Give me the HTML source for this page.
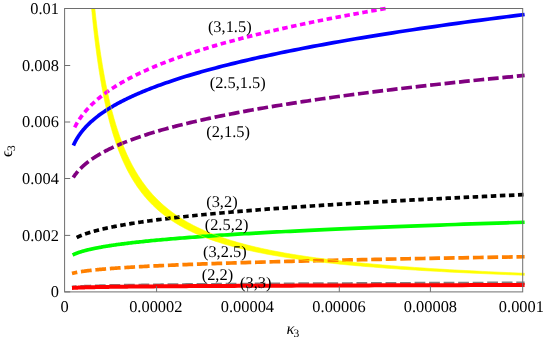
<!DOCTYPE html>
<html><head><meta charset="utf-8"><title>plot</title>
<style>html,body{margin:0;padding:0;background:#fff;}svg{display:block;will-change:transform;}</style></head>
<body>
<svg width="545" height="341" viewBox="0 0 545 341">
<rect width="545" height="341" fill="#fff"/>
<path d="M91.58,8.50 L91.97,12.51 L92.36,16.46 L92.76,20.36 L93.16,24.20 L93.57,27.99 L93.99,31.73 L94.41,35.41 L94.84,39.04 L95.27,42.62 L95.71,46.14 L96.16,49.62 L96.61,53.05 L97.07,56.43 L97.54,59.76 L98.01,63.05 L98.49,66.28 L98.98,69.48 L99.47,72.62 L99.97,75.73 L100.48,78.79 L101.00,81.80 L101.52,84.77 L102.05,87.71 L102.59,90.59 L103.13,93.44 L103.68,96.25 L104.24,99.02 L104.81,101.75 L105.39,104.44 L105.98,107.09 L106.57,109.71 L107.17,112.29 L107.78,114.83 L108.40,117.33 L109.03,119.80 L109.67,122.24 L110.32,124.64 L110.97,127.01 L111.64,129.34 L112.31,131.64 L113.00,133.91 L113.69,136.14 L114.40,138.35 L115.11,140.52 L115.84,142.66 L116.57,144.77 L117.32,146.86 L118.08,148.91 L118.84,150.93 L119.62,152.93 L120.41,154.89 L121.21,156.83 L122.03,158.74 L122.85,160.63 L123.69,162.48 L124.53,164.32 L125.40,166.12 L126.27,167.90 L127.15,169.66 L128.05,171.39 L128.96,173.09 L129.89,174.77 L130.82,176.43 L131.77,178.06 L132.74,179.67 L133.72,181.26 L134.71,182.83 L135.71,184.37 L136.73,185.89 L137.77,187.39 L138.82,188.87 L139.89,190.33 L140.97,191.77 L142.06,193.18 L143.17,194.58 L144.30,195.96 L145.45,197.32 L146.61,198.65 L147.78,199.97 L148.98,201.27 L150.19,202.56 L151.42,203.82 L152.66,205.07 L153.93,206.30 L155.21,207.51 L156.51,208.70 L157.83,209.88 L159.17,211.04 L160.52,212.18 L161.90,213.31 L163.30,214.42 L164.71,215.52 L166.15,216.60 L167.61,217.67 L169.09,218.72 L170.59,219.75 L172.11,220.77 L173.65,221.78 L175.22,222.77 L176.80,223.75 L178.42,224.71 L180.05,225.67 L181.71,226.60 L183.39,227.53 L185.09,228.44 L186.82,229.34 L188.58,230.22 L190.36,231.09 L192.16,231.95 L193.99,232.80 L195.85,233.64 L197.73,234.46 L199.64,235.28 L201.58,236.08 L203.55,236.87 L205.54,237.65 L207.57,238.41 L209.62,239.17 L211.70,239.92 L213.81,240.65 L215.95,241.38 L218.12,242.09 L220.33,242.80 L222.56,243.49 L224.83,244.18 L227.13,244.85 L229.46,245.52 L231.83,246.17 L234.23,246.82 L236.66,247.46 L239.13,248.09 L241.64,248.71 L244.18,249.32 L246.76,249.92 L249.37,250.52 L252.03,251.10 L254.72,251.68 L257.44,252.25 L260.21,252.81 L263.02,253.36 L265.87,253.91 L268.76,254.44 L271.69,254.97 L274.66,255.50 L277.68,256.01 L280.73,256.52 L283.84,257.02 L286.98,257.51 L290.17,258.00 L293.41,258.48 L296.70,258.95 L300.03,259.42 L303.41,259.88 L306.83,260.33 L310.31,260.78 L313.84,261.22 L317.42,261.65 L321.04,262.08 L324.73,262.50 L328.46,262.92 L332.25,263.33 L336.09,263.73 L339.99,264.13 L343.94,264.53 L347.95,264.91 L352.01,265.29 L356.14,265.67 L360.32,266.04 L364.57,266.41 L368.88,266.77 L373.24,267.12 L377.67,267.48 L382.17,267.82 L386.72,268.16 L391.35,268.50 L396.04,268.83 L400.80,269.16 L405.62,269.48 L410.52,269.79 L415.48,270.11 L420.52,270.42 L425.63,270.72 L430.81,271.02 L436.06,271.31 L441.40,271.61 L446.80,271.89 L452.29,272.18 L457.86,272.46 L463.50,272.73 L469.23,273.00 L475.03,273.27 L480.92,273.53 L486.90,273.79 L492.96,274.05 L499.11,274.30 L505.35,274.55 L511.67,274.80 L518.09,275.04 L524.60,275.28 L524.60,273.27 L518.35,273.02 L512.19,272.76 L506.10,272.49 L500.11,272.23 L494.19,271.95 L488.35,271.68 L482.59,271.40 L476.92,271.12 L471.31,270.83 L465.79,270.54 L460.34,270.25 L454.96,269.95 L449.66,269.65 L444.43,269.34 L439.27,269.03 L434.17,268.72 L429.15,268.40 L424.20,268.07 L419.31,267.74 L414.50,267.41 L409.74,267.07 L405.05,266.73 L400.43,266.39 L395.86,266.03 L391.36,265.68 L386.92,265.32 L382.54,264.95 L378.22,264.58 L373.96,264.20 L369.76,263.82 L365.61,263.43 L361.52,263.04 L357.49,262.65 L353.51,262.24 L349.59,261.83 L345.71,261.42 L341.89,261.00 L338.13,260.57 L334.41,260.14 L330.75,259.71 L327.13,259.26 L323.56,258.81 L320.04,258.36 L316.57,257.89 L313.15,257.43 L309.77,256.95 L306.44,256.47 L303.16,255.98 L299.92,255.49 L296.72,254.99 L293.56,254.48 L290.45,253.96 L287.39,253.44 L284.36,252.91 L281.37,252.37 L278.43,251.83 L275.52,251.28 L272.66,250.72 L269.83,250.15 L267.04,249.57 L264.29,248.99 L261.58,248.40 L258.90,247.80 L256.26,247.19 L253.66,246.58 L251.09,245.95 L248.56,245.32 L246.06,244.68 L243.59,244.03 L241.16,243.37 L238.76,242.70 L236.39,242.02 L234.06,241.34 L231.76,240.64 L229.49,239.93 L227.25,239.22 L225.04,238.49 L222.86,237.76 L220.71,237.01 L218.59,236.26 L216.49,235.49 L214.43,234.71 L212.39,233.92 L210.39,233.13 L208.41,232.32 L206.45,231.50 L204.52,230.66 L202.62,229.82 L200.75,228.96 L198.90,228.10 L197.07,227.22 L195.27,226.33 L193.50,225.43 L191.75,224.51 L190.02,223.58 L188.32,222.64 L186.63,221.69 L184.98,220.72 L183.34,219.74 L181.73,218.75 L180.14,217.74 L178.57,216.72 L177.02,215.68 L175.49,214.63 L173.98,213.57 L172.50,212.49 L171.03,211.39 L169.59,210.28 L168.16,209.16 L166.75,208.02 L165.37,206.87 L164.00,205.69 L162.65,204.51 L161.31,203.30 L160.00,202.08 L158.70,200.85 L157.42,199.59 L156.16,198.32 L154.92,197.03 L153.69,195.72 L152.48,194.40 L151.29,193.06 L150.11,191.70 L148.95,190.32 L147.80,188.92 L146.67,187.50 L145.56,186.06 L144.46,184.60 L143.37,183.12 L142.30,181.63 L141.25,180.11 L140.20,178.57 L139.18,177.01 L138.16,175.42 L137.16,173.82 L136.18,172.19 L135.21,170.54 L134.25,168.87 L133.30,167.18 L132.37,165.46 L131.45,163.72 L130.54,161.95 L129.64,160.16 L128.76,158.35 L127.89,156.51 L127.03,154.64 L126.18,152.75 L125.34,150.84 L124.52,148.90 L123.70,146.93 L122.90,144.93 L122.11,142.90 L121.33,140.85 L120.56,138.77 L119.80,136.66 L119.05,134.52 L118.31,132.36 L117.58,130.16 L116.86,127.93 L116.15,125.67 L115.45,123.38 L114.76,121.06 L114.07,118.71 L113.40,116.32 L112.74,113.91 L112.08,111.45 L111.44,108.97 L110.80,106.45 L110.18,103.89 L109.56,101.30 L108.95,98.68 L108.34,96.02 L107.75,93.32 L107.16,90.59 L106.58,87.81 L106.01,85.00 L105.45,82.15 L104.90,79.26 L104.35,76.33 L103.81,73.36 L103.28,70.35 L102.75,67.30 L102.23,64.21 L101.72,61.07 L101.22,57.89 L100.72,54.67 L100.23,51.40 L99.74,48.09 L99.27,44.73 L98.80,41.33 L98.33,37.88 L97.87,34.38 L97.42,30.83 L96.97,27.24 L96.54,23.59 L96.10,19.89 L95.67,16.15 L95.25,12.35 L94.83,8.50Z" fill="#ffff00"/>
<path d="M74.50,127.67 L74.67,127.33 L74.85,126.98 L75.03,126.63 L75.22,126.28 L75.40,125.93 L75.60,125.58 L75.79,125.22 L75.99,124.87 L76.19,124.51 L76.39,124.15 L76.60,123.78 L76.81,123.42 L77.03,123.05 L77.25,122.68 L77.47,122.31 L77.70,121.94 L77.93,121.57 L78.16,121.19 L78.40,120.81 L78.65,120.43 L78.89,120.05 L79.14,119.67 L79.40,119.28 L79.66,118.89 L79.93,118.50 L80.20,118.11 L80.47,117.72 L80.75,117.32 L81.04,116.92 L81.33,116.52 L81.62,116.12 L81.92,115.72 L82.23,115.31 L82.54,114.90 L82.86,114.49 L83.18,114.08 L83.51,113.66 L83.84,113.25 L84.18,112.83 L84.53,112.40 L84.88,111.98 L85.23,111.56 L85.60,111.13 L85.97,110.70 L86.35,110.27 L86.73,109.83 L87.12,109.39 L87.52,108.96 L87.92,108.51 L88.33,108.07 L88.75,107.62 L89.18,107.18 L89.61,106.73 L90.05,106.27 L90.50,105.82 L90.96,105.36 L91.42,104.90 L91.90,104.44 L92.38,103.97 L92.87,103.51 L93.37,103.04 L93.87,102.57 L94.39,102.09 L94.92,101.61 L95.45,101.14 L96.00,100.65 L96.55,100.17 L97.11,99.68 L97.69,99.19 L98.27,98.70 L98.86,98.21 L99.47,97.71 L100.08,97.21 L100.71,96.71 L101.35,96.21 L101.99,95.70 L102.65,95.19 L103.33,94.68 L104.01,94.16 L104.70,93.64 L105.41,93.12 L106.13,92.60 L106.86,92.07 L107.61,91.55 L108.37,91.02 L109.14,90.48 L109.93,89.94 L110.73,89.41 L111.54,88.86 L112.37,88.32 L113.21,87.77 L114.07,87.22 L114.94,86.67 L115.83,86.11 L116.73,85.55 L117.65,84.99 L118.59,84.42 L119.54,83.86 L120.51,83.29 L121.49,82.71 L122.50,82.13 L123.52,81.55 L124.56,80.97 L125.62,80.39 L126.69,79.80 L127.79,79.21 L128.90,78.61 L130.04,78.01 L131.19,77.41 L132.37,76.81 L133.56,76.20 L134.78,75.59 L136.02,74.98 L137.28,74.36 L138.56,73.74 L139.86,73.12 L141.19,72.49 L142.54,71.86 L143.92,71.23 L145.32,70.59 L146.74,69.95 L148.19,69.31 L149.66,68.67 L151.16,68.02 L152.69,67.36 L154.24,66.71 L155.83,66.05 L157.44,65.39 L159.07,64.72 L160.74,64.05 L162.44,63.38 L164.16,62.70 L165.92,62.02 L167.70,61.34 L169.52,60.65 L171.37,59.96 L173.26,59.27 L175.17,58.57 L177.13,57.87 L179.11,57.16 L181.13,56.45 L183.19,55.74 L185.28,55.02 L187.41,54.30 L189.57,53.58 L191.78,52.85 L194.02,52.12 L196.30,51.39 L198.63,50.65 L200.99,49.91 L203.40,49.16 L205.85,48.41 L208.34,47.66 L210.87,46.90 L213.45,46.14 L216.08,45.37 L218.75,44.60 L221.47,43.83 L224.24,43.05 L227.05,42.27 L229.92,41.49 L232.84,40.70 L235.80,39.90 L238.82,39.11 L241.90,38.30 L245.03,37.50 L248.21,36.69 L251.45,35.87 L254.74,35.06 L258.10,34.23 L261.51,33.41 L264.98,32.57 L268.52,31.74 L272.12,30.90 L275.78,30.05 L279.50,29.21 L283.29,28.35 L287.15,27.50 L291.08,26.63 L295.07,25.77 L299.14,24.90 L303.27,24.02 L307.49,23.14 L311.77,22.26 L316.13,21.37 L320.57,20.48 L325.08,19.58 L329.68,18.68 L334.35,17.77 L339.11,16.86 L343.95,15.94 L348.88,15.02 L353.90,14.09 L359.00,13.16 L364.19,12.23 L369.48,11.29 L374.86,10.34 L380.33,9.39 L385.90,8.43" fill="none" stroke="#ff00ff" stroke-width="3.70" stroke-linejoin="round" stroke-dasharray="5.5 3.57" stroke-dashoffset="-0.35"/>
<path d="M73.40,145.52 L73.58,145.12 L73.76,144.72 L73.94,144.31 L74.13,143.91 L74.32,143.50 L74.51,143.10 L74.71,142.70 L74.92,142.29 L75.12,141.89 L75.34,141.48 L75.55,141.07 L75.77,140.67 L76.00,140.26 L76.22,139.85 L76.46,139.44 L76.70,139.03 L76.94,138.62 L77.19,138.21 L77.44,137.80 L77.70,137.39 L77.96,136.97 L78.23,136.56 L78.50,136.14 L78.78,135.72 L79.07,135.30 L79.36,134.88 L79.65,134.46 L79.96,134.04 L80.26,133.61 L80.58,133.19 L80.90,132.76 L81.23,132.33 L81.56,131.90 L81.90,131.47 L82.25,131.03 L82.60,130.60 L82.96,130.16 L83.33,129.72 L83.71,129.28 L84.09,128.84 L84.48,128.40 L84.88,127.95 L85.29,127.50 L85.71,127.05 L86.13,126.60 L86.56,126.15 L87.00,125.69 L87.45,125.23 L87.91,124.77 L88.38,124.31 L88.86,123.84 L89.34,123.38 L89.84,122.91 L90.35,122.44 L90.87,121.96 L91.39,121.49 L91.93,121.01 L92.48,120.53 L93.04,120.05 L93.61,119.56 L94.19,119.07 L94.79,118.58 L95.39,118.09 L96.01,117.60 L96.64,117.10 L97.29,116.60 L97.94,116.10 L98.61,115.59 L99.29,115.08 L99.99,114.57 L100.70,114.06 L101.43,113.54 L102.17,113.02 L102.92,112.50 L103.69,111.97 L104.48,111.44 L105.28,110.91 L106.09,110.38 L106.93,109.84 L107.78,109.30 L108.64,108.76 L109.53,108.21 L110.43,107.66 L111.35,107.11 L112.29,106.56 L113.25,106.00 L114.22,105.44 L115.22,104.87 L116.24,104.30 L117.27,103.73 L118.33,103.16 L119.41,102.58 L120.51,102.00 L121.63,101.41 L122.78,100.82 L123.95,100.23 L125.14,99.64 L126.35,99.04 L127.59,98.43 L128.86,97.83 L130.15,97.22 L131.47,96.61 L132.81,95.99 L134.18,95.37 L135.58,94.74 L137.00,94.12 L138.45,93.48 L139.94,92.85 L141.45,92.21 L142.99,91.56 L144.57,90.92 L146.17,90.26 L147.81,89.61 L149.48,88.95 L151.19,88.29 L152.93,87.62 L154.70,86.95 L156.51,86.27 L158.35,85.59 L160.24,84.91 L162.16,84.22 L164.12,83.52 L166.12,82.83 L168.15,82.13 L170.23,81.42 L172.35,80.71 L174.52,80.00 L176.73,79.28 L178.98,78.55 L181.27,77.82 L183.62,77.09 L186.01,76.35 L188.44,75.61 L190.93,74.87 L193.47,74.11 L196.06,73.36 L198.70,72.60 L201.39,71.83 L204.14,71.06 L206.94,70.28 L209.80,69.50 L212.71,68.72 L215.69,67.93 L218.72,67.13 L221.81,66.33 L224.97,65.53 L228.19,64.72 L231.48,63.90 L234.83,63.08 L238.25,62.25 L241.73,61.42 L245.29,60.58 L248.92,59.74 L252.62,58.89 L256.40,58.04 L260.25,57.18 L264.18,56.32 L268.18,55.45 L272.27,54.57 L276.44,53.69 L280.70,52.81 L285.03,51.91 L289.46,51.02 L293.98,50.11 L298.58,49.20 L303.28,48.29 L308.07,47.36 L312.96,46.44 L317.95,45.50 L323.04,44.56 L328.23,43.62 L333.52,42.67 L338.92,41.71 L344.43,40.74 L350.05,39.77 L355.78,38.80 L361.63,37.81 L367.59,36.82 L373.68,35.83 L379.88,34.83 L386.21,33.82 L392.67,32.80 L399.26,31.78 L405.98,30.75 L412.84,29.72 L419.83,28.67 L426.96,27.62 L434.24,26.57 L441.66,25.51 L449.23,24.44 L456.96,23.36 L464.84,22.28 L472.87,21.18 L481.07,20.09 L489.43,18.98 L497.97,17.87 L506.67,16.75 L515.54,15.62 L524.60,14.49" fill="none" stroke="#0000ff" stroke-width="3.70" stroke-linejoin="round"/>
<path d="M73.25,177.47 L73.42,177.20 L73.60,176.93 L73.78,176.66 L73.97,176.38 L74.16,176.11 L74.35,175.83 L74.55,175.56 L74.75,175.28 L74.95,175.00 L75.16,174.71 L75.37,174.43 L75.59,174.14 L75.81,173.85 L76.04,173.57 L76.27,173.27 L76.51,172.98 L76.75,172.69 L76.99,172.39 L77.24,172.09 L77.50,171.79 L77.76,171.49 L78.02,171.19 L78.29,170.88 L78.57,170.57 L78.85,170.26 L79.14,169.95 L79.43,169.64 L79.73,169.32 L80.03,169.01 L80.35,168.69 L80.66,168.37 L80.99,168.05 L81.32,167.72 L81.66,167.39 L82.00,167.07 L82.35,166.74 L82.71,166.40 L83.07,166.07 L83.45,165.73 L83.83,165.40 L84.21,165.06 L84.61,164.71 L85.01,164.37 L85.43,164.02 L85.85,163.67 L86.27,163.32 L86.71,162.97 L87.16,162.62 L87.61,162.26 L88.08,161.90 L88.55,161.54 L89.03,161.18 L89.53,160.81 L90.03,160.44 L90.54,160.07 L91.06,159.70 L91.60,159.33 L92.14,158.95 L92.70,158.57 L93.26,158.19 L93.84,157.81 L94.43,157.42 L95.03,157.03 L95.65,156.64 L96.27,156.25 L96.91,155.86 L97.56,155.46 L98.23,155.06 L98.91,154.66 L99.60,154.25 L100.31,153.85 L101.03,153.44 L101.76,153.02 L102.51,152.61 L103.27,152.19 L104.05,151.77 L104.85,151.35 L105.66,150.93 L106.49,150.50 L107.33,150.07 L108.20,149.64 L109.08,149.21 L109.97,148.77 L110.89,148.33 L111.82,147.89 L112.77,147.44 L113.75,146.99 L114.74,146.54 L115.75,146.09 L116.78,145.63 L117.83,145.18 L118.91,144.71 L120.00,144.25 L121.12,143.78 L122.26,143.31 L123.42,142.84 L124.61,142.37 L125.82,141.89 L127.05,141.41 L128.31,140.92 L129.60,140.44 L130.91,139.95 L132.25,139.46 L133.61,138.96 L135.00,138.46 L136.42,137.96 L137.87,137.46 L139.35,136.95 L140.86,136.44 L142.39,135.92 L143.96,135.41 L145.56,134.89 L147.20,134.37 L148.86,133.84 L150.56,133.31 L152.30,132.78 L154.06,132.24 L155.87,131.70 L157.71,131.16 L159.59,130.62 L161.50,130.07 L163.46,129.52 L165.45,128.96 L167.49,128.40 L169.56,127.84 L171.68,127.28 L173.84,126.71 L176.04,126.14 L178.29,125.56 L180.58,124.98 L182.92,124.40 L185.31,123.82 L187.74,123.23 L190.22,122.63 L192.76,122.04 L195.34,121.44 L197.98,120.84 L200.67,120.23 L203.41,119.62 L206.21,119.00 L209.07,118.39 L211.98,117.76 L214.96,117.14 L217.99,116.51 L221.08,115.88 L224.24,115.24 L227.46,114.60 L230.74,113.96 L234.09,113.31 L237.51,112.66 L241.00,112.00 L244.56,111.34 L248.19,110.68 L251.89,110.01 L255.67,109.34 L259.52,108.66 L263.45,107.98 L267.46,107.30 L271.55,106.61 L275.73,105.92 L279.99,105.22 L284.33,104.52 L288.76,103.82 L293.28,103.11 L297.90,102.40 L302.60,101.68 L307.40,100.96 L312.30,100.23 L317.29,99.50 L322.39,98.77 L327.59,98.03 L332.89,97.28 L338.31,96.54 L343.83,95.78 L349.46,95.03 L355.20,94.27 L361.06,93.50 L367.04,92.73 L373.14,91.95 L379.37,91.17 L385.71,90.39 L392.19,89.60 L398.80,88.81 L405.54,88.01 L412.42,87.21 L419.43,86.40 L426.59,85.58 L433.89,84.77 L441.34,83.94 L448.93,83.12 L456.69,82.28 L464.59,81.45 L472.66,80.60 L480.89,79.76 L489.29,78.90 L497.85,78.05 L506.59,77.18 L515.51,76.31 L524.60,75.44" fill="none" stroke="#800080" stroke-width="3.70" stroke-linejoin="round" stroke-dasharray="10.78 3.75" stroke-dashoffset="3.10"/>
<path d="M76.70,237.53 L76.92,237.42 L77.15,237.31 L77.38,237.19 L77.62,237.08 L77.86,236.96 L78.10,236.85 L78.35,236.73 L78.61,236.62 L78.86,236.50 L79.13,236.38 L79.40,236.26 L79.67,236.14 L79.95,236.02 L80.23,235.90 L80.52,235.78 L80.81,235.66 L81.11,235.54 L81.42,235.41 L81.73,235.29 L82.04,235.16 L82.36,235.04 L82.69,234.91 L83.02,234.78 L83.36,234.65 L83.71,234.52 L84.06,234.39 L84.42,234.26 L84.79,234.13 L85.16,234.00 L85.54,233.87 L85.93,233.73 L86.32,233.60 L86.72,233.46 L87.13,233.32 L87.54,233.19 L87.97,233.05 L88.40,232.91 L88.84,232.77 L89.28,232.63 L89.74,232.49 L90.20,232.35 L90.68,232.20 L91.16,232.06 L91.65,231.91 L92.15,231.77 L92.65,231.62 L93.17,231.47 L93.70,231.33 L94.24,231.18 L94.78,231.03 L95.34,230.88 L95.91,230.72 L96.48,230.57 L97.07,230.42 L97.67,230.26 L98.28,230.11 L98.90,229.95 L99.54,229.79 L100.18,229.63 L100.84,229.47 L101.51,229.31 L102.19,229.15 L102.88,228.99 L103.59,228.82 L104.31,228.66 L105.04,228.49 L105.78,228.33 L106.54,228.16 L107.32,227.99 L108.11,227.82 L108.91,227.65 L109.73,227.48 L110.56,227.31 L111.41,227.13 L112.27,226.96 L113.15,226.78 L114.05,226.61 L114.96,226.43 L115.89,226.25 L116.83,226.07 L117.80,225.89 L118.78,225.71 L119.78,225.52 L120.80,225.34 L121.83,225.15 L122.89,224.97 L123.96,224.78 L125.06,224.59 L126.18,224.40 L127.31,224.21 L128.47,224.01 L129.65,223.82 L130.85,223.63 L132.07,223.43 L133.31,223.23 L134.58,223.03 L135.87,222.83 L137.19,222.63 L138.53,222.43 L139.89,222.23 L141.28,222.02 L142.69,221.82 L144.14,221.61 L145.60,221.40 L147.10,221.19 L148.62,220.98 L150.17,220.77 L151.75,220.56 L153.36,220.34 L154.99,220.13 L156.66,219.91 L158.36,219.69 L160.09,219.47 L161.85,219.25 L163.65,219.03 L165.47,218.80 L167.33,218.58 L169.23,218.35 L171.16,218.12 L173.13,217.89 L175.13,217.66 L177.17,217.43 L179.24,217.20 L181.36,216.96 L183.51,216.73 L185.71,216.49 L187.94,216.25 L190.22,216.01 L192.53,215.77 L194.90,215.52 L197.30,215.28 L199.75,215.03 L202.24,214.78 L204.78,214.53 L207.37,214.28 L210.00,214.03 L212.68,213.78 L215.42,213.52 L218.20,213.26 L221.03,213.00 L223.92,212.74 L226.86,212.48 L229.85,212.22 L232.90,211.95 L236.00,211.69 L239.17,211.42 L242.39,211.15 L245.67,210.88 L249.01,210.60 L252.41,210.33 L255.88,210.05 L259.40,209.77 L263.00,209.49 L266.66,209.21 L270.39,208.93 L274.18,208.64 L278.05,208.36 L281.99,208.07 L286.00,207.78 L290.08,207.49 L294.24,207.19 L298.48,206.90 L302.80,206.60 L307.19,206.30 L311.67,206.00 L316.22,205.70 L320.87,205.39 L325.59,205.08 L330.41,204.78 L335.31,204.47 L340.31,204.15 L345.40,203.84 L350.58,203.52 L355.85,203.21 L361.23,202.89 L366.70,202.57 L372.27,202.24 L377.95,201.92 L383.73,201.59 L389.62,201.26 L395.61,200.93 L401.72,200.59 L407.94,200.26 L414.27,199.92 L420.73,199.58 L427.30,199.24 L433.99,198.90 L440.80,198.55 L447.74,198.20 L454.81,197.85 L462.01,197.50 L469.34,197.15 L476.81,196.79 L484.42,196.43 L492.16,196.07 L500.05,195.71 L508.08,195.34 L516.27,194.97 L524.60,194.60" fill="none" stroke="#000000" stroke-width="3.70" stroke-linejoin="round" stroke-dasharray="5.5 3.57"/>
<path d="M72.60,255.00 L72.76,254.92 L72.93,254.84 L73.10,254.75 L73.28,254.67 L73.46,254.58 L73.64,254.50 L73.83,254.41 L74.02,254.32 L74.21,254.23 L74.41,254.15 L74.61,254.06 L74.81,253.97 L75.02,253.88 L75.24,253.79 L75.46,253.70 L75.68,253.61 L75.91,253.52 L76.14,253.42 L76.38,253.33 L76.62,253.24 L76.87,253.14 L77.12,253.05 L77.38,252.95 L77.64,252.86 L77.91,252.76 L78.18,252.66 L78.46,252.56 L78.75,252.47 L79.04,252.37 L79.34,252.27 L79.64,252.17 L79.95,252.07 L80.26,251.96 L80.59,251.86 L80.91,251.76 L81.25,251.65 L81.59,251.55 L81.94,251.45 L82.30,251.34 L82.66,251.23 L83.03,251.13 L83.41,251.02 L83.80,250.91 L84.20,250.80 L84.60,250.69 L85.01,250.58 L85.43,250.47 L85.86,250.36 L86.30,250.25 L86.74,250.14 L87.20,250.02 L87.66,249.91 L88.14,249.79 L88.62,249.68 L89.11,249.56 L89.62,249.44 L90.13,249.32 L90.66,249.21 L91.20,249.09 L91.74,248.97 L92.30,248.84 L92.87,248.72 L93.45,248.60 L94.05,248.48 L94.65,248.35 L95.27,248.23 L95.90,248.10 L96.54,247.98 L97.20,247.85 L97.87,247.72 L98.56,247.59 L99.25,247.46 L99.97,247.33 L100.69,247.20 L101.44,247.07 L102.19,246.93 L102.97,246.80 L103.76,246.67 L104.56,246.53 L105.38,246.39 L106.22,246.26 L107.08,246.12 L107.95,245.98 L108.85,245.84 L109.76,245.70 L110.68,245.56 L111.63,245.42 L112.60,245.27 L113.59,245.13 L114.59,244.98 L115.62,244.84 L116.67,244.69 L117.74,244.54 L118.84,244.39 L119.95,244.24 L121.09,244.09 L122.25,243.94 L123.44,243.79 L124.65,243.64 L125.88,243.48 L127.14,243.33 L128.43,243.17 L129.74,243.01 L131.08,242.85 L132.45,242.69 L133.85,242.53 L135.27,242.37 L136.72,242.21 L138.21,242.05 L139.72,241.88 L141.27,241.72 L142.84,241.55 L144.45,241.38 L146.10,241.21 L147.77,241.04 L149.48,240.87 L151.23,240.70 L153.01,240.53 L154.83,240.35 L156.69,240.18 L158.58,240.00 L160.51,239.83 L162.49,239.65 L164.50,239.47 L166.56,239.29 L168.65,239.11 L170.79,238.92 L172.98,238.74 L175.21,238.55 L177.48,238.37 L179.80,238.18 L182.17,237.99 L184.59,237.80 L187.06,237.61 L189.58,237.42 L192.15,237.22 L194.77,237.03 L197.45,236.83 L200.18,236.64 L202.97,236.44 L205.82,236.24 L208.72,236.04 L211.69,235.83 L214.71,235.63 L217.80,235.43 L220.95,235.22 L224.17,235.01 L227.45,234.80 L230.80,234.59 L234.22,234.38 L237.71,234.17 L241.27,233.96 L244.90,233.74 L248.61,233.53 L252.40,233.31 L256.26,233.09 L260.20,232.87 L264.22,232.65 L268.33,232.42 L272.52,232.20 L276.80,231.97 L281.16,231.74 L285.62,231.51 L290.16,231.28 L294.80,231.05 L299.54,230.82 L304.37,230.58 L309.30,230.35 L314.34,230.11 L319.47,229.87 L324.72,229.63 L330.07,229.39 L335.53,229.14 L341.10,228.90 L346.79,228.65 L352.59,228.40 L358.51,228.15 L364.56,227.90 L370.73,227.65 L377.03,227.39 L383.45,227.14 L390.01,226.88 L396.71,226.62 L403.54,226.36 L410.51,226.09 L417.62,225.83 L424.89,225.56 L432.30,225.29 L439.86,225.03 L447.58,224.75 L455.46,224.48 L463.50,224.21 L471.70,223.93 L480.08,223.65 L488.62,223.37 L497.34,223.09 L506.24,222.81 L515.33,222.52 L524.60,222.23" fill="none" stroke="#00ff00" stroke-width="3.70" stroke-linejoin="round"/>
<path d="M72.00,273.44 L72.16,273.40 L72.31,273.36 L72.48,273.32 L72.64,273.27 L72.81,273.23 L72.98,273.19 L73.16,273.14 L73.34,273.10 L73.52,273.06 L73.71,273.01 L73.90,272.97 L74.09,272.92 L74.29,272.88 L74.49,272.83 L74.70,272.79 L74.91,272.74 L75.13,272.70 L75.35,272.65 L75.58,272.60 L75.81,272.56 L76.04,272.51 L76.28,272.46 L76.53,272.41 L76.78,272.37 L77.03,272.32 L77.29,272.27 L77.56,272.22 L77.83,272.17 L78.11,272.12 L78.39,272.07 L78.68,272.02 L78.98,271.97 L79.28,271.92 L79.59,271.87 L79.90,271.82 L80.22,271.76 L80.55,271.71 L80.88,271.66 L81.22,271.61 L81.57,271.55 L81.93,271.50 L82.29,271.44 L82.66,271.39 L83.04,271.34 L83.43,271.28 L83.82,271.22 L84.23,271.17 L84.64,271.11 L85.06,271.06 L85.49,271.00 L85.92,270.94 L86.37,270.88 L86.83,270.83 L87.29,270.77 L87.77,270.71 L88.26,270.65 L88.75,270.59 L89.26,270.53 L89.78,270.47 L90.30,270.41 L90.84,270.35 L91.39,270.29 L91.95,270.23 L92.53,270.16 L93.11,270.10 L93.71,270.04 L94.32,269.97 L94.95,269.91 L95.58,269.85 L96.23,269.78 L96.89,269.72 L97.57,269.65 L98.26,269.59 L98.97,269.52 L99.69,269.45 L100.43,269.38 L101.18,269.32 L101.94,269.25 L102.73,269.18 L103.53,269.11 L104.34,269.04 L105.18,268.97 L106.03,268.90 L106.90,268.83 L107.78,268.76 L108.69,268.69 L109.61,268.62 L110.56,268.54 L111.52,268.47 L112.50,268.40 L113.51,268.32 L114.53,268.25 L115.58,268.17 L116.65,268.10 L117.74,268.02 L118.86,267.95 L119.99,267.87 L121.16,267.79 L122.34,267.71 L123.55,267.64 L124.79,267.56 L126.05,267.48 L127.34,267.40 L128.65,267.32 L130.00,267.24 L131.37,267.16 L132.77,267.07 L134.20,266.99 L135.66,266.91 L137.15,266.82 L138.67,266.74 L140.22,266.66 L141.81,266.57 L143.43,266.48 L145.08,266.40 L146.77,266.31 L148.49,266.22 L150.25,266.14 L152.05,266.05 L153.88,265.96 L155.75,265.87 L157.66,265.78 L159.62,265.69 L161.61,265.60 L163.64,265.50 L165.72,265.41 L167.84,265.32 L170.00,265.23 L172.21,265.13 L174.47,265.04 L176.77,264.94 L179.13,264.84 L181.53,264.75 L183.98,264.65 L186.48,264.55 L189.04,264.45 L191.65,264.35 L194.31,264.25 L197.03,264.15 L199.81,264.05 L202.65,263.95 L205.54,263.85 L208.50,263.74 L211.51,263.64 L214.59,263.54 L217.74,263.43 L220.95,263.32 L224.23,263.22 L227.58,263.11 L230.99,263.00 L234.48,262.89 L238.04,262.79 L241.68,262.68 L245.40,262.56 L249.19,262.45 L253.06,262.34 L257.01,262.23 L261.04,262.11 L265.16,262.00 L269.37,261.89 L273.66,261.77 L278.05,261.65 L282.52,261.54 L287.09,261.42 L291.76,261.30 L296.52,261.18 L301.38,261.06 L306.35,260.94 L311.42,260.82 L316.59,260.69 L321.88,260.57 L327.27,260.45 L332.78,260.32 L338.40,260.19 L344.15,260.07 L350.01,259.94 L355.99,259.81 L362.10,259.68 L368.34,259.55 L374.71,259.42 L381.21,259.29 L387.85,259.16 L394.63,259.02 L401.55,258.89 L408.62,258.76 L415.83,258.62 L423.20,258.48 L430.72,258.35 L438.39,258.21 L446.23,258.07 L454.23,257.93 L462.40,257.79 L470.75,257.64 L479.26,257.50 L487.96,257.36 L496.83,257.21 L505.90,257.07 L515.15,256.92 L524.60,256.77" fill="none" stroke="#ff8000" stroke-width="3.70" stroke-linejoin="round" stroke-dasharray="10.78 3.75" stroke-dashoffset="5.40"/>
<path d="M72.00,287.41 L72.16,287.39 L72.31,287.38 L72.48,287.36 L72.64,287.35 L72.81,287.33 L72.98,287.32 L73.16,287.30 L73.34,287.29 L73.52,287.27 L73.71,287.26 L73.90,287.24 L74.09,287.23 L74.29,287.21 L74.49,287.20 L74.70,287.18 L74.91,287.17 L75.13,287.15 L75.35,287.14 L75.58,287.12 L75.81,287.10 L76.04,287.09 L76.28,287.07 L76.53,287.06 L76.78,287.04 L77.03,287.03 L77.29,287.01 L77.56,286.99 L77.83,286.98 L78.11,286.96 L78.39,286.95 L78.68,286.93 L78.98,286.91 L79.28,286.90 L79.59,286.88 L79.90,286.86 L80.22,286.85 L80.55,286.83 L80.88,286.81 L81.22,286.80 L81.57,286.78 L81.93,286.76 L82.29,286.75 L82.66,286.73 L83.04,286.71 L83.43,286.70 L83.82,286.68 L84.23,286.66 L84.64,286.65 L85.06,286.63 L85.49,286.61 L85.92,286.59 L86.37,286.58 L86.83,286.56 L87.29,286.54 L87.77,286.53 L88.26,286.51 L88.75,286.49 L89.26,286.47 L89.78,286.45 L90.30,286.44 L90.84,286.42 L91.39,286.40 L91.95,286.38 L92.53,286.37 L93.11,286.35 L93.71,286.33 L94.32,286.31 L94.95,286.29 L95.58,286.27 L96.23,286.26 L96.89,286.24 L97.57,286.22 L98.26,286.20 L98.97,286.18 L99.69,286.16 L100.43,286.14 L101.18,286.13 L101.94,286.11 L102.73,286.09 L103.53,286.07 L104.34,286.05 L105.18,286.03 L106.03,286.01 L106.90,285.99 L107.78,285.97 L108.69,285.95 L109.61,285.93 L110.56,285.92 L111.52,285.90 L112.50,285.88 L113.51,285.86 L114.53,285.84 L115.58,285.82 L116.65,285.80 L117.74,285.78 L118.86,285.76 L119.99,285.74 L121.16,285.72 L122.34,285.70 L123.55,285.68 L124.79,285.66 L126.05,285.64 L127.34,285.62 L128.65,285.59 L130.00,285.57 L131.37,285.55 L132.77,285.53 L134.20,285.51 L135.66,285.49 L137.15,285.47 L138.67,285.45 L140.22,285.43 L141.81,285.41 L143.43,285.39 L145.08,285.36 L146.77,285.34 L148.49,285.32 L150.25,285.30 L152.05,285.28 L153.88,285.26 L155.75,285.24 L157.66,285.21 L159.62,285.19 L161.61,285.17 L163.64,285.15 L165.72,285.13 L167.84,285.10 L170.00,285.08 L172.21,285.06 L174.47,285.04 L176.77,285.01 L179.13,284.99 L181.53,284.97 L183.98,284.95 L186.48,284.92 L189.04,284.90 L191.65,284.88 L194.31,284.86 L197.03,284.83 L199.81,284.81 L202.65,284.79 L205.54,284.76 L208.50,284.74 L211.51,284.72 L214.59,284.69 L217.74,284.67 L220.95,284.65 L224.23,284.62 L227.58,284.60 L230.99,284.58 L234.48,284.55 L238.04,284.53 L241.68,284.50 L245.40,284.48 L249.19,284.45 L253.06,284.43 L257.01,284.41 L261.04,284.38 L265.16,284.36 L269.37,284.33 L273.66,284.31 L278.05,284.28 L282.52,284.26 L287.09,284.23 L291.76,284.21 L296.52,284.18 L301.38,284.16 L306.35,284.13 L311.42,284.11 L316.59,284.08 L321.88,284.06 L327.27,284.03 L332.78,284.01 L338.40,283.98 L344.15,283.95 L350.01,283.93 L355.99,283.90 L362.10,283.88 L368.34,283.85 L374.71,283.82 L381.21,283.80 L387.85,283.77 L394.63,283.74 L401.55,283.72 L408.62,283.69 L415.83,283.66 L423.20,283.64 L430.72,283.61 L438.39,283.58 L446.23,283.56 L454.23,283.53 L462.40,283.50 L470.75,283.47 L479.26,283.45 L487.96,283.42 L496.83,283.39 L505.90,283.36 L515.15,283.34 L524.60,283.31" fill="none" stroke="#808080" stroke-width="3.60" stroke-linejoin="round" stroke-dasharray="10.78 3.75" stroke-dashoffset="6.10"/>
<path d="M72.00,287.95 L72.16,287.94 L72.31,287.93 L72.48,287.92 L72.64,287.91 L72.81,287.90 L72.98,287.89 L73.16,287.88 L73.34,287.86 L73.52,287.85 L73.71,287.84 L73.90,287.83 L74.09,287.82 L74.29,287.81 L74.49,287.80 L74.70,287.78 L74.91,287.77 L75.13,287.76 L75.35,287.75 L75.58,287.74 L75.81,287.73 L76.04,287.72 L76.28,287.70 L76.53,287.69 L76.78,287.68 L77.03,287.67 L77.29,287.66 L77.56,287.64 L77.83,287.63 L78.11,287.62 L78.39,287.61 L78.68,287.60 L78.98,287.58 L79.28,287.57 L79.59,287.56 L79.90,287.55 L80.22,287.54 L80.55,287.52 L80.88,287.51 L81.22,287.50 L81.57,287.49 L81.93,287.47 L82.29,287.46 L82.66,287.45 L83.04,287.44 L83.43,287.42 L83.82,287.41 L84.23,287.40 L84.64,287.39 L85.06,287.37 L85.49,287.36 L85.92,287.35 L86.37,287.34 L86.83,287.32 L87.29,287.31 L87.77,287.30 L88.26,287.28 L88.75,287.27 L89.26,287.26 L89.78,287.25 L90.30,287.23 L90.84,287.22 L91.39,287.21 L91.95,287.19 L92.53,287.18 L93.11,287.17 L93.71,287.15 L94.32,287.14 L94.95,287.13 L95.58,287.11 L96.23,287.10 L96.89,287.09 L97.57,287.07 L98.26,287.06 L98.97,287.05 L99.69,287.03 L100.43,287.02 L101.18,287.00 L101.94,286.99 L102.73,286.98 L103.53,286.96 L104.34,286.95 L105.18,286.94 L106.03,286.92 L106.90,286.91 L107.78,286.89 L108.69,286.88 L109.61,286.87 L110.56,286.85 L111.52,286.84 L112.50,286.82 L113.51,286.81 L114.53,286.79 L115.58,286.78 L116.65,286.77 L117.74,286.75 L118.86,286.74 L119.99,286.72 L121.16,286.71 L122.34,286.69 L123.55,286.68 L124.79,286.66 L126.05,286.65 L127.34,286.63 L128.65,286.62 L130.00,286.60 L131.37,286.59 L132.77,286.58 L134.20,286.56 L135.66,286.55 L137.15,286.53 L138.67,286.52 L140.22,286.50 L141.81,286.48 L143.43,286.47 L145.08,286.45 L146.77,286.44 L148.49,286.42 L150.25,286.41 L152.05,286.39 L153.88,286.38 L155.75,286.36 L157.66,286.35 L159.62,286.33 L161.61,286.32 L163.64,286.30 L165.72,286.28 L167.84,286.27 L170.00,286.25 L172.21,286.24 L174.47,286.22 L176.77,286.20 L179.13,286.19 L181.53,286.17 L183.98,286.16 L186.48,286.14 L189.04,286.12 L191.65,286.11 L194.31,286.09 L197.03,286.08 L199.81,286.06 L202.65,286.04 L205.54,286.03 L208.50,286.01 L211.51,285.99 L214.59,285.98 L217.74,285.96 L220.95,285.94 L224.23,285.93 L227.58,285.91 L230.99,285.89 L234.48,285.88 L238.04,285.86 L241.68,285.84 L245.40,285.83 L249.19,285.81 L253.06,285.79 L257.01,285.77 L261.04,285.76 L265.16,285.74 L269.37,285.72 L273.66,285.71 L278.05,285.69 L282.52,285.67 L287.09,285.65 L291.76,285.64 L296.52,285.62 L301.38,285.60 L306.35,285.58 L311.42,285.56 L316.59,285.55 L321.88,285.53 L327.27,285.51 L332.78,285.49 L338.40,285.48 L344.15,285.46 L350.01,285.44 L355.99,285.42 L362.10,285.40 L368.34,285.38 L374.71,285.37 L381.21,285.35 L387.85,285.33 L394.63,285.31 L401.55,285.29 L408.62,285.27 L415.83,285.26 L423.20,285.24 L430.72,285.22 L438.39,285.20 L446.23,285.18 L454.23,285.16 L462.40,285.14 L470.75,285.12 L479.26,285.11 L487.96,285.09 L496.83,285.07 L505.90,285.05 L515.15,285.03 L524.60,285.01" fill="none" stroke="#ff0000" stroke-width="4.00" stroke-linejoin="round"/>
<path d="M91.58,8.50 L91.97,12.51 L92.36,16.46 L92.76,20.36 L93.16,24.20 L93.57,27.99 L93.99,31.73 L94.41,35.41 L94.84,39.04 L95.27,42.62 L95.71,46.14 L96.16,49.62 L96.61,53.05 L97.07,56.43 L97.54,59.76 L98.01,63.05 L98.49,66.28 L98.98,69.48 L99.47,72.62 L99.97,75.73 L100.48,78.79 L101.00,81.80 L101.52,84.77 L102.05,87.71 L102.59,90.59 L103.13,93.44 L103.68,96.25 L104.24,99.02 L104.81,101.75 L105.39,104.44 L105.98,107.09 L106.57,109.71 L107.17,112.29 L107.78,114.83 L108.40,117.33 L109.03,119.80 L109.67,122.24 L110.32,124.64 L110.97,127.01 L111.64,129.34 L112.31,131.64 L113.00,133.91 L113.69,136.14 L114.40,138.35 L115.11,140.52 L115.84,142.66 L116.57,144.77 L117.32,146.86 L118.08,148.91 L118.84,150.93 L119.62,152.93 L120.41,154.89 L121.21,156.83 L122.03,158.74 L122.85,160.63 L123.69,162.48 L124.53,164.32 L125.40,166.12 L126.27,167.90 L127.15,169.66 L128.05,171.39 L128.96,173.09 L129.89,174.77 L130.82,176.43 L131.77,178.06 L132.74,179.67 L133.72,181.26 L134.71,182.83 L135.71,184.37 L136.73,185.89 L137.77,187.39 L138.82,188.87 L139.89,190.33 L140.97,191.77 L142.06,193.18 L143.17,194.58 L144.30,195.96 L145.45,197.32 L146.61,198.65 L147.78,199.97 L148.98,201.27 L150.19,202.56 L151.42,203.82 L152.66,205.07 L153.93,206.30 L155.21,207.51 L156.51,208.70 L157.83,209.88 L159.17,211.04 L160.52,212.18 L161.90,213.31 L163.30,214.42 L164.71,215.52 L166.15,216.60 L167.61,217.67 L169.09,218.72 L170.59,219.75 L172.11,220.77 L173.65,221.78 L175.22,222.77 L176.80,223.75 L178.42,224.71 L180.05,225.67 L181.71,226.60 L183.39,227.53 L185.09,228.44 L186.82,229.34 L188.58,230.22 L190.36,231.09 L192.16,231.95 L193.99,232.80 L195.85,233.64 L197.73,234.46 L199.64,235.28 L201.58,236.08 L203.55,236.87 L205.54,237.65 L207.57,238.41 L209.62,239.17 L211.70,239.92 L213.81,240.65 L215.95,241.38 L218.12,242.09 L220.33,242.80 L222.56,243.49 L224.83,244.18 L227.13,244.85 L229.46,245.52 L231.83,246.17 L234.23,246.82 L236.66,247.46 L239.13,248.09 L241.64,248.71 L244.18,249.32 L246.76,249.92 L249.37,250.52 L252.03,251.10 L254.72,251.68 L257.44,252.25 L260.21,252.81 L263.02,253.36 L265.87,253.91 L268.76,254.44 L271.69,254.97 L274.66,255.50 L277.68,256.01 L280.73,256.52 L283.84,257.02 L286.98,257.51 L290.17,258.00 L293.41,258.48 L296.70,258.95 L300.03,259.42 L303.41,259.88 L306.83,260.33 L310.31,260.78 L313.84,261.22 L317.42,261.65 L321.04,262.08 L324.73,262.50 L328.46,262.92 L332.25,263.33 L336.09,263.73 L339.99,264.13 L343.94,264.53 L347.95,264.91 L352.01,265.29 L356.14,265.67 L360.32,266.04 L364.57,266.41 L368.88,266.77 L373.24,267.12 L377.67,267.48 L382.17,267.82 L386.72,268.16 L391.35,268.50 L396.04,268.83 L400.80,269.16 L405.62,269.48 L410.52,269.79 L415.48,270.11 L420.52,270.42 L425.63,270.72 L430.81,271.02 L436.06,271.31 L441.40,271.61 L446.80,271.89 L452.29,272.18 L457.86,272.46 L463.50,272.73 L469.23,273.00 L475.03,273.27 L480.92,273.53 L486.90,273.79 L492.96,274.05 L499.11,274.30 L505.35,274.55 L511.67,274.80 L518.09,275.04 L524.60,275.28" fill="none" stroke="#ffff00" stroke-width="0.6"/>
<path d="M94.83,8.50 L95.25,12.35 L95.67,16.15 L96.10,19.89 L96.54,23.59 L96.97,27.24 L97.42,30.83 L97.87,34.38 L98.33,37.88 L98.80,41.33 L99.27,44.73 L99.74,48.09 L100.23,51.40 L100.72,54.67 L101.22,57.89 L101.72,61.07 L102.23,64.21 L102.75,67.30 L103.28,70.35 L103.81,73.36 L104.35,76.33 L104.90,79.26 L105.45,82.15 L106.01,85.00 L106.58,87.81 L107.16,90.59 L107.75,93.32 L108.34,96.02 L108.95,98.68 L109.56,101.30 L110.18,103.89 L110.80,106.45 L111.44,108.97 L112.08,111.45 L112.74,113.91 L113.40,116.32 L114.07,118.71 L114.76,121.06 L115.45,123.38 L116.15,125.67 L116.86,127.93 L117.58,130.16 L118.31,132.36 L119.05,134.52 L119.80,136.66 L120.56,138.77 L121.33,140.85 L122.11,142.90 L122.90,144.93 L123.70,146.93 L124.52,148.90 L125.34,150.84 L126.18,152.75 L127.03,154.64 L127.89,156.51 L128.76,158.35 L129.64,160.16 L130.54,161.95 L131.45,163.72 L132.37,165.46 L133.30,167.18 L134.25,168.87 L135.21,170.54 L136.18,172.19 L137.16,173.82 L138.16,175.42 L139.18,177.01 L140.20,178.57 L141.25,180.11 L142.30,181.63 L143.37,183.12 L144.46,184.60 L145.56,186.06 L146.67,187.50 L147.80,188.92 L148.95,190.32 L150.11,191.70 L151.29,193.06 L152.48,194.40 L153.69,195.72 L154.92,197.03 L156.16,198.32 L157.42,199.59 L158.70,200.85 L160.00,202.08 L161.31,203.30 L162.65,204.51 L164.00,205.69 L165.37,206.87 L166.75,208.02 L168.16,209.16 L169.59,210.28 L171.03,211.39 L172.50,212.49 L173.98,213.57 L175.49,214.63 L177.02,215.68 L178.57,216.72 L180.14,217.74 L181.73,218.75 L183.34,219.74 L184.98,220.72 L186.63,221.69 L188.32,222.64 L190.02,223.58 L191.75,224.51 L193.50,225.43 L195.27,226.33 L197.07,227.22 L198.90,228.10 L200.75,228.96 L202.62,229.82 L204.52,230.66 L206.45,231.50 L208.41,232.32 L210.39,233.13 L212.39,233.92 L214.43,234.71 L216.49,235.49 L218.59,236.26 L220.71,237.01 L222.86,237.76 L225.04,238.49 L227.25,239.22 L229.49,239.93 L231.76,240.64 L234.06,241.34 L236.39,242.02 L238.76,242.70 L241.16,243.37 L243.59,244.03 L246.06,244.68 L248.56,245.32 L251.09,245.95 L253.66,246.58 L256.26,247.19 L258.90,247.80 L261.58,248.40 L264.29,248.99 L267.04,249.57 L269.83,250.15 L272.66,250.72 L275.52,251.28 L278.43,251.83 L281.37,252.37 L284.36,252.91 L287.39,253.44 L290.45,253.96 L293.56,254.48 L296.72,254.99 L299.92,255.49 L303.16,255.98 L306.44,256.47 L309.77,256.95 L313.15,257.43 L316.57,257.89 L320.04,258.36 L323.56,258.81 L327.13,259.26 L330.75,259.71 L334.41,260.14 L338.13,260.57 L341.89,261.00 L345.71,261.42 L349.59,261.83 L353.51,262.24 L357.49,262.65 L361.52,263.04 L365.61,263.43 L369.76,263.82 L373.96,264.20 L378.22,264.58 L382.54,264.95 L386.92,265.32 L391.36,265.68 L395.86,266.03 L400.43,266.39 L405.05,266.73 L409.74,267.07 L414.50,267.41 L419.31,267.74 L424.20,268.07 L429.15,268.40 L434.17,268.72 L439.27,269.03 L444.43,269.34 L449.66,269.65 L454.96,269.95 L460.34,270.25 L465.79,270.54 L471.31,270.83 L476.92,271.12 L482.59,271.40 L488.35,271.68 L494.19,271.95 L500.11,272.23 L506.10,272.49 L512.19,272.76 L518.35,273.02 L524.60,273.27" fill="none" stroke="#ffff00" stroke-width="0.6"/>
<g stroke="#6e6e6e" stroke-width="1" fill="none">
<rect x="64.60" y="8.50" width="458.10" height="283.40"/>
<path d="M156.60,291.90 v-5.8"/>
<path d="M247.60,291.90 v-5.8"/>
<path d="M339.30,291.90 v-5.8"/>
<path d="M430.40,291.90 v-5.8"/>
<path d="M64.60,291.90 h5.6"/>
<path d="M64.60,235.40 h5.6"/>
<path d="M64.60,178.50 h5.6"/>
<path d="M64.60,122.00 h5.6"/>
<path d="M64.60,65.50 h5.6"/>
</g>
<g font-family="'Liberation Serif', serif" font-size="16.4" fill="#000" text-rendering="geometricPrecision">
<text x="58.9" y="297.00" text-anchor="end">0</text>
<text x="58.9" y="240.50" text-anchor="end">0.002</text>
<text x="58.9" y="183.60" text-anchor="end">0.004</text>
<text x="58.9" y="127.10" text-anchor="end">0.006</text>
<text x="58.9" y="70.60" text-anchor="end">0.008</text>
<text x="58.9" y="13.60" text-anchor="end">0.01</text>
<text x="64.50" y="311.6" text-anchor="middle">0</text>
<text x="155.80" y="311.6" text-anchor="middle">0.00002</text>
<text x="247.40" y="311.6" text-anchor="middle">0.00004</text>
<text x="339.00" y="311.6" text-anchor="middle">0.00006</text>
<text x="430.40" y="311.6" text-anchor="middle">0.00008</text>
<text x="521.40" y="311.6" text-anchor="middle">0.0001</text>
<text x="207.90" y="31.80">(3,1.5)</text>
<text x="209.70" y="87.50">(2.5,1.5)</text>
<text x="206.20" y="136.50">(2,1.5)</text>
<text x="206.20" y="206.50">(3,2)</text>
<text x="204.70" y="229.50">(2.5,2)</text>
<text x="202.95" y="257.00">(3,2.5)</text>
<text x="201.70" y="280.00">(2,2)</text>
<text x="240.00" y="288.00">(3,3)</text>
<text x="286.5" y="333.8" font-style="italic">κ</text>
<text x="293.6" y="337" font-size="11.5">3</text>
<g transform="translate(12.0,156.9) rotate(-90)"><text x="0" y="0">ϵ</text><text x="6.0" y="2.8" font-size="11.5">3</text></g>
</g>
</svg>
</body></html>
